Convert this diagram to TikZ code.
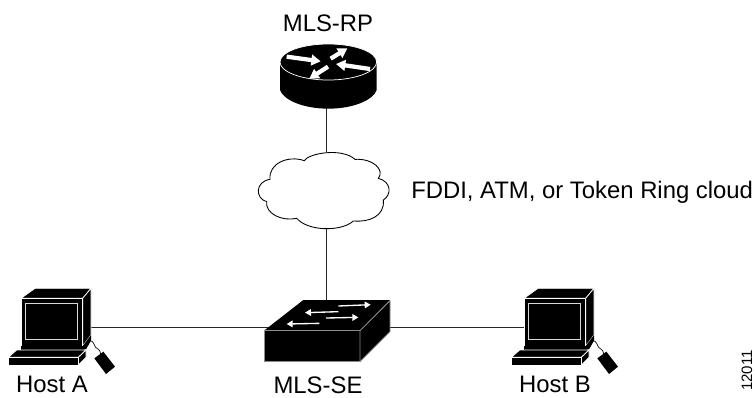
\documentclass[tikz,border=0pt]{standalone}
\usepackage{fontspec}
\setmainfont{Liberation Sans}
\usetikzlibrary{arrows.meta}
\tikzset{
  wire/.style={draw=black!85,line width=0.65pt},
  lbl/.style={inner sep=0pt,font=\fontsize{17.9}{20}\selectfont,text=black},
  smalllbl/.style={inner sep=0pt,font=\fontsize{11.3}{13}\selectfont,text=black},
  solidpart/.style={fill=black,draw=white,line width=0.55pt,line join=round},
  edge/.style={draw=white,line width=0.55pt},
  whitearrow/.style={draw=white,line width=#1,-{Triangle[length=7pt,width=8pt]}},
  thinarrow/.style={draw=white,line width=1pt,-{Triangle[length=4.5pt,width=5pt]}},
  cloudline/.style={draw=black,fill=white,line width=0.65pt},
  zoomed/.style={x=.25pt,y=-.25pt}
}
\newcommand{\hostdraw}{%
  % monitor
  \path[solidpart] (63,85)--(105,55)--(273,55)--(248,85)--cycle;
  \path[solidpart] (248,85)--(273,55)--(273,195)--(248,228)--cycle;
  \path[solidpart] (63,85) rectangle (248,228);
  \path[fill=black] (63,228) rectangle (248,240);
  \path[fill=black] (248,228)--(273,195)--(273,212)--(258,238)--(248,240)--cycle;
  \path[edge,draw=black!15] (76,100) rectangle (232,208);
  % keyboard
  \path[solidpart] (25,262)--(50,240)--(258,240)--(235,262)--cycle;
  \path[solidpart] (235,262)--(258,240)--(258,262)--(235,285)--cycle;
  \path[solidpart] (25,262) rectangle (235,285);
  % mouse and cord
  \path[fill=black] (310,245)--(345,290)--(318,312)--(283,265)--cycle;
  \draw[black,line width=.5pt] (270,212) .. controls (280,212) and (282,225) .. (287,232) .. controls (292,240) and (300,235) .. (302,252);
}
\begin{document}
\begin{tikzpicture}[x=.75pt,y=-.75pt]
\useasboundingbox (0,0) rectangle (755,397);
% anchors for connectors
\coordinate (rpport) at (326,108);
\coordinate (cloudtop) at (326,152);
\coordinate (cloudbot) at (326,228);
\coordinate (sebtop) at (326,300);
\coordinate (hostaport) at (91,327);
\coordinate (seleft) at (272,327);
\coordinate (seright) at (388,327);
\coordinate (hostbport) at (524,327);
\draw[wire] (rpport) -- (cloudtop);
\draw[wire] (cloudbot) -- (sebtop);
\draw[wire] (hostaport) -- (seleft);
\draw[wire] (seright) -- (hostbport);
% router
\begin{scope}[shift={(260,0)},zoomed]
  \path[fill=black] (60,186) -- (60,270) .. controls (70,300) and (130,326) .. (205,326)
     .. controls (280,326) and (340,300) .. (350,270) -- (350,186) -- cycle;
  \path[fill=black,draw=white,line width=.55pt] (205,186) ellipse [x radius=145,y radius=54];
  \draw[whitearrow=3.2pt] (80,170) -- (182,184);
  \draw[whitearrow=3.2pt] (212,176) -- (262,145);
  \draw[whitearrow=3.2pt] (330,207) -- (228,192);
  \draw[whitearrow=3.2pt] (204,200) -- (148,236);
\end{scope}
% cloud
\begin{scope}[shift={(245,140)},zoomed]
  \path[cloudline] (178,62) .. controls (190,40) and (290,22) .. (330,58)
    .. controls (385,55) and (420,90) .. (400,115)
    .. controls (440,125) and (440,165) .. (415,180)
    .. controls (420,230) and (370,247) .. (325,243)
    .. controls (290,275) and (190,275) .. (155,235)
    .. controls (110,245) and (60,220) .. (65,185)
    .. controls (30,175) and (30,125) .. (75,118)
    .. controls (70,70) and (130,45) .. (178,62) -- cycle;
\end{scope}
% switch
\begin{scope}[shift={(250,280)},zoomed]
  \path[solidpart,draw=black!45] (42,152) rectangle (330,245);
  \path[solidpart,draw=black!45] (330,152)--(420,62)--(420,155)--(330,245)--cycle;
  \path[fill=black] (42,152)--(160,60)--(420,60)--(330,152)--cycle;
  \draw[black!45,line width=.55pt] (330,152)--(420,62);
  \draw[black!45,line width=.55pt] (42,152)--(330,152);
  \draw[thinarrow] (265,78) -- (362,74);
  \draw[thinarrow] (265,95) -- (165,98);
  \draw[thinarrow] (228,114) -- (325,112);
  \draw[thinarrow] (208,130) -- (110,132);
\end{scope}
% hosts
\begin{scope}[shift={(0,270)},zoomed]\hostdraw\end{scope}
\begin{scope}[shift={(503,270)},zoomed]\hostdraw\end{scope}
% labels
\node[lbl] (rplabel) at (328,23.5) {MLS-RP};
\node[lbl,anchor=west] (cloudlabel) at (411,192) {FDDI, ATM, or Token Ring cloud};
\node[lbl] (hostalabel) at (52,384.5) {Host A};
\node[lbl] (selabel) at (318,385.5) {MLS-SE};
\node[lbl] (hostblabel) at (555,384.5) {Host B};
\node[smalllbl,rotate=90] (figlabel) at (747,370.5) {12011};
\end{tikzpicture}
\end{document}
